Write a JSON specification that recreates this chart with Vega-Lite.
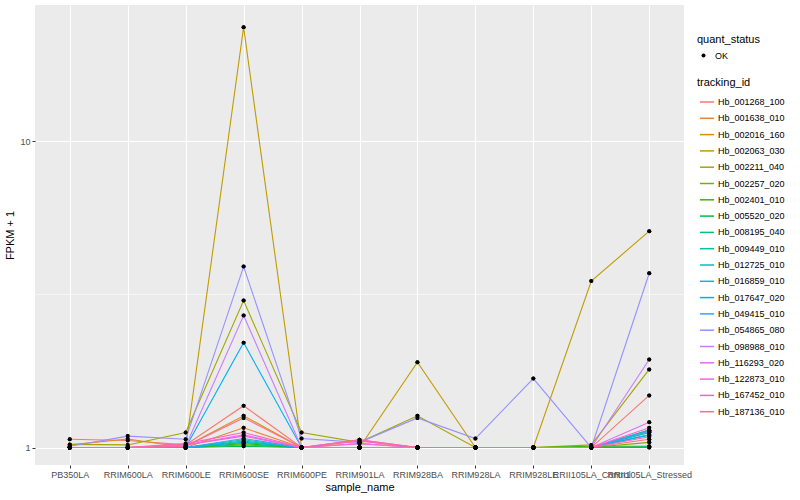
{
  "$schema": "https://vega.github.io/schema/vega-lite/v6.json",
  "width": 649,
  "height": 460,
  "autosize": {"type": "none"},
  "padding": {"left": 35, "top": 5, "right": 116, "bottom": 35},
  "background": "white",
  "data": {
    "values": [
      {"t":"Hb_001268_100","s":"PB350LA","v":1.064,"q":"OK"},{"t":"Hb_001268_100","s":"RRIM600LA","v":1.055,"q":"OK"},{"t":"Hb_001268_100","s":"RRIM600LE","v":1.02,"q":"OK"},{"t":"Hb_001268_100","s":"RRIM600SE","v":1.37,"q":"OK"},{"t":"Hb_001268_100","s":"RRIM600PE","v":1.0,"q":"OK"},{"t":"Hb_001268_100","s":"RRIM901LA","v":1.06,"q":"OK"},{"t":"Hb_001268_100","s":"RRIM928BA","v":1.0,"q":"OK"},{"t":"Hb_001268_100","s":"RRIM928LA","v":1.0,"q":"OK"},{"t":"Hb_001268_100","s":"RRIM928LE","v":1.0,"q":"OK"},{"t":"Hb_001268_100","s":"RRII105LA_Control","v":1.0,"q":"OK"},{"t":"Hb_001268_100","s":"RRII105LA_Stressed","v":1.48,"q":"OK"},
      {"t":"Hb_001638_010","s":"PB350LA","v":1.02,"q":"OK"},{"t":"Hb_001638_010","s":"RRIM600LA","v":1.066,"q":"OK"},{"t":"Hb_001638_010","s":"RRIM600LE","v":1.0,"q":"OK"},{"t":"Hb_001638_010","s":"RRIM600SE","v":1.16,"q":"OK"},{"t":"Hb_001638_010","s":"RRIM600PE","v":1.0,"q":"OK"},{"t":"Hb_001638_010","s":"RRIM901LA","v":1.03,"q":"OK"},{"t":"Hb_001638_010","s":"RRIM928BA","v":1.0,"q":"OK"},{"t":"Hb_001638_010","s":"RRIM928LA","v":1.0,"q":"OK"},{"t":"Hb_001638_010","s":"RRIM928LE","v":1.0,"q":"OK"},{"t":"Hb_001638_010","s":"RRII105LA_Control","v":1.0,"q":"OK"},{"t":"Hb_001638_010","s":"RRII105LA_Stressed","v":1.12,"q":"OK"},
      {"t":"Hb_002016_160","s":"PB350LA","v":1.0,"q":"OK"},{"t":"Hb_002016_160","s":"RRIM600LA","v":1.0,"q":"OK"},{"t":"Hb_002016_160","s":"RRIM600LE","v":1.01,"q":"OK"},{"t":"Hb_002016_160","s":"RRIM600SE","v":1.27,"q":"OK"},{"t":"Hb_002016_160","s":"RRIM600PE","v":1.0,"q":"OK"},{"t":"Hb_002016_160","s":"RRIM901LA","v":1.0,"q":"OK"},{"t":"Hb_002016_160","s":"RRIM928BA","v":1.0,"q":"OK"},{"t":"Hb_002016_160","s":"RRIM928LA","v":1.0,"q":"OK"},{"t":"Hb_002016_160","s":"RRIM928LE","v":1.0,"q":"OK"},{"t":"Hb_002016_160","s":"RRII105LA_Control","v":1.0,"q":"OK"},{"t":"Hb_002016_160","s":"RRII105LA_Stressed","v":1.14,"q":"OK"},
      {"t":"Hb_002063_030","s":"PB350LA","v":1.0,"q":"OK"},{"t":"Hb_002063_030","s":"RRIM600LA","v":1.0,"q":"OK"},{"t":"Hb_002063_030","s":"RRIM600LE","v":1.0,"q":"OK"},{"t":"Hb_002063_030","s":"RRIM600SE","v":23.6,"q":"OK"},{"t":"Hb_002063_030","s":"RRIM600PE","v":1.0,"q":"OK"},{"t":"Hb_002063_030","s":"RRIM901LA","v":1.0,"q":"OK"},{"t":"Hb_002063_030","s":"RRIM928BA","v":1.9,"q":"OK"},{"t":"Hb_002063_030","s":"RRIM928LA","v":1.0,"q":"OK"},{"t":"Hb_002063_030","s":"RRIM928LE","v":1.0,"q":"OK"},{"t":"Hb_002063_030","s":"RRII105LA_Control","v":3.5,"q":"OK"},{"t":"Hb_002063_030","s":"RRII105LA_Stressed","v":5.09,"q":"OK"},
      {"t":"Hb_002211_040","s":"PB350LA","v":1.024,"q":"OK"},{"t":"Hb_002211_040","s":"RRIM600LA","v":1.02,"q":"OK"},{"t":"Hb_002211_040","s":"RRIM600LE","v":1.12,"q":"OK"},{"t":"Hb_002211_040","s":"RRIM600SE","v":3.02,"q":"OK"},{"t":"Hb_002211_040","s":"RRIM600PE","v":1.12,"q":"OK"},{"t":"Hb_002211_040","s":"RRIM901LA","v":1.04,"q":"OK"},{"t":"Hb_002211_040","s":"RRIM928BA","v":1.27,"q":"OK"},{"t":"Hb_002211_040","s":"RRIM928LA","v":1.0,"q":"OK"},{"t":"Hb_002211_040","s":"RRIM928LE","v":1.0,"q":"OK"},{"t":"Hb_002211_040","s":"RRII105LA_Control","v":1.02,"q":"OK"},{"t":"Hb_002211_040","s":"RRII105LA_Stressed","v":1.8,"q":"OK"},
      {"t":"Hb_002257_020","s":"PB350LA","v":1.0,"q":"OK"},{"t":"Hb_002257_020","s":"RRIM600LA","v":1.0,"q":"OK"},{"t":"Hb_002257_020","s":"RRIM600LE","v":1.0,"q":"OK"},{"t":"Hb_002257_020","s":"RRIM600SE","v":1.02,"q":"OK"},{"t":"Hb_002257_020","s":"RRIM600PE","v":1.0,"q":"OK"},{"t":"Hb_002257_020","s":"RRIM901LA","v":1.0,"q":"OK"},{"t":"Hb_002257_020","s":"RRIM928BA","v":1.0,"q":"OK"},{"t":"Hb_002257_020","s":"RRIM928LA","v":1.0,"q":"OK"},{"t":"Hb_002257_020","s":"RRIM928LE","v":1.0,"q":"OK"},{"t":"Hb_002257_020","s":"RRII105LA_Control","v":1.0,"q":"OK"},{"t":"Hb_002257_020","s":"RRII105LA_Stressed","v":1.04,"q":"OK"},
      {"t":"Hb_002401_010","s":"PB350LA","v":1.0,"q":"OK"},{"t":"Hb_002401_010","s":"RRIM600LA","v":1.0,"q":"OK"},{"t":"Hb_002401_010","s":"RRIM600LE","v":1.0,"q":"OK"},{"t":"Hb_002401_010","s":"RRIM600SE","v":1.03,"q":"OK"},{"t":"Hb_002401_010","s":"RRIM600PE","v":1.0,"q":"OK"},{"t":"Hb_002401_010","s":"RRIM901LA","v":1.0,"q":"OK"},{"t":"Hb_002401_010","s":"RRIM928BA","v":1.0,"q":"OK"},{"t":"Hb_002401_010","s":"RRIM928LA","v":1.0,"q":"OK"},{"t":"Hb_002401_010","s":"RRIM928LE","v":1.0,"q":"OK"},{"t":"Hb_002401_010","s":"RRII105LA_Control","v":1.01,"q":"OK"},{"t":"Hb_002401_010","s":"RRII105LA_Stressed","v":1.01,"q":"OK"},
      {"t":"Hb_005520_020","s":"PB350LA","v":1.0,"q":"OK"},{"t":"Hb_005520_020","s":"RRIM600LA","v":1.0,"q":"OK"},{"t":"Hb_005520_020","s":"RRIM600LE","v":1.0,"q":"OK"},{"t":"Hb_005520_020","s":"RRIM600SE","v":1.01,"q":"OK"},{"t":"Hb_005520_020","s":"RRIM600PE","v":1.0,"q":"OK"},{"t":"Hb_005520_020","s":"RRIM901LA","v":1.0,"q":"OK"},{"t":"Hb_005520_020","s":"RRIM928BA","v":1.0,"q":"OK"},{"t":"Hb_005520_020","s":"RRIM928LA","v":1.0,"q":"OK"},{"t":"Hb_005520_020","s":"RRIM928LE","v":1.0,"q":"OK"},{"t":"Hb_005520_020","s":"RRII105LA_Control","v":1.0,"q":"OK"},{"t":"Hb_005520_020","s":"RRII105LA_Stressed","v":1.0,"q":"OK"},
      {"t":"Hb_008195_040","s":"PB350LA","v":1.0,"q":"OK"},{"t":"Hb_008195_040","s":"RRIM600LA","v":1.0,"q":"OK"},{"t":"Hb_008195_040","s":"RRIM600LE","v":1.0,"q":"OK"},{"t":"Hb_008195_040","s":"RRIM600SE","v":1.04,"q":"OK"},{"t":"Hb_008195_040","s":"RRIM600PE","v":1.0,"q":"OK"},{"t":"Hb_008195_040","s":"RRIM901LA","v":1.0,"q":"OK"},{"t":"Hb_008195_040","s":"RRIM928BA","v":1.0,"q":"OK"},{"t":"Hb_008195_040","s":"RRIM928LA","v":1.0,"q":"OK"},{"t":"Hb_008195_040","s":"RRIM928LE","v":1.0,"q":"OK"},{"t":"Hb_008195_040","s":"RRII105LA_Control","v":1.0,"q":"OK"},{"t":"Hb_008195_040","s":"RRII105LA_Stressed","v":1.005,"q":"OK"},
      {"t":"Hb_009449_010","s":"PB350LA","v":1.0,"q":"OK"},{"t":"Hb_009449_010","s":"RRIM600LA","v":1.0,"q":"OK"},{"t":"Hb_009449_010","s":"RRIM600LE","v":1.0,"q":"OK"},{"t":"Hb_009449_010","s":"RRIM600SE","v":1.05,"q":"OK"},{"t":"Hb_009449_010","s":"RRIM600PE","v":1.0,"q":"OK"},{"t":"Hb_009449_010","s":"RRIM901LA","v":1.0,"q":"OK"},{"t":"Hb_009449_010","s":"RRIM928BA","v":1.0,"q":"OK"},{"t":"Hb_009449_010","s":"RRIM928LA","v":1.0,"q":"OK"},{"t":"Hb_009449_010","s":"RRIM928LE","v":1.0,"q":"OK"},{"t":"Hb_009449_010","s":"RRII105LA_Control","v":1.0,"q":"OK"},{"t":"Hb_009449_010","s":"RRII105LA_Stressed","v":1.1,"q":"OK"},
      {"t":"Hb_012725_010","s":"PB350LA","v":1.0,"q":"OK"},{"t":"Hb_012725_010","s":"RRIM600LA","v":1.0,"q":"OK"},{"t":"Hb_012725_010","s":"RRIM600LE","v":1.0,"q":"OK"},{"t":"Hb_012725_010","s":"RRIM600SE","v":1.06,"q":"OK"},{"t":"Hb_012725_010","s":"RRIM600PE","v":1.0,"q":"OK"},{"t":"Hb_012725_010","s":"RRIM901LA","v":1.0,"q":"OK"},{"t":"Hb_012725_010","s":"RRIM928BA","v":1.0,"q":"OK"},{"t":"Hb_012725_010","s":"RRIM928LA","v":1.0,"q":"OK"},{"t":"Hb_012725_010","s":"RRIM928LE","v":1.0,"q":"OK"},{"t":"Hb_012725_010","s":"RRII105LA_Control","v":1.0,"q":"OK"},{"t":"Hb_012725_010","s":"RRII105LA_Stressed","v":1.12,"q":"OK"},
      {"t":"Hb_016859_010","s":"PB350LA","v":1.0,"q":"OK"},{"t":"Hb_016859_010","s":"RRIM600LA","v":1.0,"q":"OK"},{"t":"Hb_016859_010","s":"RRIM600LE","v":1.0,"q":"OK"},{"t":"Hb_016859_010","s":"RRIM600SE","v":1.04,"q":"OK"},{"t":"Hb_016859_010","s":"RRIM600PE","v":1.0,"q":"OK"},{"t":"Hb_016859_010","s":"RRIM901LA","v":1.0,"q":"OK"},{"t":"Hb_016859_010","s":"RRIM928BA","v":1.0,"q":"OK"},{"t":"Hb_016859_010","s":"RRIM928LA","v":1.0,"q":"OK"},{"t":"Hb_016859_010","s":"RRIM928LE","v":1.0,"q":"OK"},{"t":"Hb_016859_010","s":"RRII105LA_Control","v":1.0,"q":"OK"},{"t":"Hb_016859_010","s":"RRII105LA_Stressed","v":1.14,"q":"OK"},
      {"t":"Hb_017647_020","s":"PB350LA","v":1.0,"q":"OK"},{"t":"Hb_017647_020","s":"RRIM600LA","v":1.0,"q":"OK"},{"t":"Hb_017647_020","s":"RRIM600LE","v":1.0,"q":"OK"},{"t":"Hb_017647_020","s":"RRIM600SE","v":2.2,"q":"OK"},{"t":"Hb_017647_020","s":"RRIM600PE","v":1.0,"q":"OK"},{"t":"Hb_017647_020","s":"RRIM901LA","v":1.0,"q":"OK"},{"t":"Hb_017647_020","s":"RRIM928BA","v":1.0,"q":"OK"},{"t":"Hb_017647_020","s":"RRIM928LA","v":1.0,"q":"OK"},{"t":"Hb_017647_020","s":"RRIM928LE","v":1.0,"q":"OK"},{"t":"Hb_017647_020","s":"RRII105LA_Control","v":1.0,"q":"OK"},{"t":"Hb_017647_020","s":"RRII105LA_Stressed","v":1.1,"q":"OK"},
      {"t":"Hb_049415_010","s":"PB350LA","v":1.0,"q":"OK"},{"t":"Hb_049415_010","s":"RRIM600LA","v":1.0,"q":"OK"},{"t":"Hb_049415_010","s":"RRIM600LE","v":1.0,"q":"OK"},{"t":"Hb_049415_010","s":"RRIM600SE","v":1.07,"q":"OK"},{"t":"Hb_049415_010","s":"RRIM600PE","v":1.0,"q":"OK"},{"t":"Hb_049415_010","s":"RRIM901LA","v":1.0,"q":"OK"},{"t":"Hb_049415_010","s":"RRIM928BA","v":1.0,"q":"OK"},{"t":"Hb_049415_010","s":"RRIM928LA","v":1.0,"q":"OK"},{"t":"Hb_049415_010","s":"RRIM928LE","v":1.0,"q":"OK"},{"t":"Hb_049415_010","s":"RRII105LA_Control","v":1.0,"q":"OK"},{"t":"Hb_049415_010","s":"RRII105LA_Stressed","v":1.13,"q":"OK"},
      {"t":"Hb_054865_080","s":"PB350LA","v":1.01,"q":"OK"},{"t":"Hb_054865_080","s":"RRIM600LA","v":1.09,"q":"OK"},{"t":"Hb_054865_080","s":"RRIM600LE","v":1.064,"q":"OK"},{"t":"Hb_054865_080","s":"RRIM600SE","v":3.9,"q":"OK"},{"t":"Hb_054865_080","s":"RRIM600PE","v":1.07,"q":"OK"},{"t":"Hb_054865_080","s":"RRIM901LA","v":1.04,"q":"OK"},{"t":"Hb_054865_080","s":"RRIM928BA","v":1.25,"q":"OK"},{"t":"Hb_054865_080","s":"RRIM928LA","v":1.07,"q":"OK"},{"t":"Hb_054865_080","s":"RRIM928LE","v":1.68,"q":"OK"},{"t":"Hb_054865_080","s":"RRII105LA_Control","v":1.0,"q":"OK"},{"t":"Hb_054865_080","s":"RRII105LA_Stressed","v":3.71,"q":"OK"},
      {"t":"Hb_098988_010","s":"PB350LA","v":1.0,"q":"OK"},{"t":"Hb_098988_010","s":"RRIM600LA","v":1.0,"q":"OK"},{"t":"Hb_098988_010","s":"RRIM600LE","v":1.01,"q":"OK"},{"t":"Hb_098988_010","s":"RRIM600SE","v":2.7,"q":"OK"},{"t":"Hb_098988_010","s":"RRIM600PE","v":1.0,"q":"OK"},{"t":"Hb_098988_010","s":"RRIM901LA","v":1.0,"q":"OK"},{"t":"Hb_098988_010","s":"RRIM928BA","v":1.0,"q":"OK"},{"t":"Hb_098988_010","s":"RRIM928LA","v":1.0,"q":"OK"},{"t":"Hb_098988_010","s":"RRIM928LE","v":1.0,"q":"OK"},{"t":"Hb_098988_010","s":"RRII105LA_Control","v":1.0,"q":"OK"},{"t":"Hb_098988_010","s":"RRII105LA_Stressed","v":1.94,"q":"OK"},
      {"t":"Hb_116293_020","s":"PB350LA","v":1.0,"q":"OK"},{"t":"Hb_116293_020","s":"RRIM600LA","v":1.0,"q":"OK"},{"t":"Hb_116293_020","s":"RRIM600LE","v":1.02,"q":"OK"},{"t":"Hb_116293_020","s":"RRIM600SE","v":1.1,"q":"OK"},{"t":"Hb_116293_020","s":"RRIM600PE","v":1.0,"q":"OK"},{"t":"Hb_116293_020","s":"RRIM901LA","v":1.03,"q":"OK"},{"t":"Hb_116293_020","s":"RRIM928BA","v":1.0,"q":"OK"},{"t":"Hb_116293_020","s":"RRIM928LA","v":1.0,"q":"OK"},{"t":"Hb_116293_020","s":"RRIM928LE","v":1.0,"q":"OK"},{"t":"Hb_116293_020","s":"RRII105LA_Control","v":1.0,"q":"OK"},{"t":"Hb_116293_020","s":"RRII105LA_Stressed","v":1.21,"q":"OK"},
      {"t":"Hb_122873_010","s":"PB350LA","v":1.0,"q":"OK"},{"t":"Hb_122873_010","s":"RRIM600LA","v":1.0,"q":"OK"},{"t":"Hb_122873_010","s":"RRIM600LE","v":1.02,"q":"OK"},{"t":"Hb_122873_010","s":"RRIM600SE","v":1.09,"q":"OK"},{"t":"Hb_122873_010","s":"RRIM600PE","v":1.0,"q":"OK"},{"t":"Hb_122873_010","s":"RRIM901LA","v":1.05,"q":"OK"},{"t":"Hb_122873_010","s":"RRIM928BA","v":1.0,"q":"OK"},{"t":"Hb_122873_010","s":"RRIM928LA","v":1.0,"q":"OK"},{"t":"Hb_122873_010","s":"RRIM928LE","v":1.0,"q":"OK"},{"t":"Hb_122873_010","s":"RRII105LA_Control","v":1.0,"q":"OK"},{"t":"Hb_122873_010","s":"RRII105LA_Stressed","v":1.16,"q":"OK"},
      {"t":"Hb_167452_010","s":"PB350LA","v":1.0,"q":"OK"},{"t":"Hb_167452_010","s":"RRIM600LA","v":1.0,"q":"OK"},{"t":"Hb_167452_010","s":"RRIM600LE","v":1.03,"q":"OK"},{"t":"Hb_167452_010","s":"RRIM600SE","v":1.12,"q":"OK"},{"t":"Hb_167452_010","s":"RRIM600PE","v":1.0,"q":"OK"},{"t":"Hb_167452_010","s":"RRIM901LA","v":1.06,"q":"OK"},{"t":"Hb_167452_010","s":"RRIM928BA","v":1.0,"q":"OK"},{"t":"Hb_167452_010","s":"RRIM928LA","v":1.0,"q":"OK"},{"t":"Hb_167452_010","s":"RRIM928LE","v":1.0,"q":"OK"},{"t":"Hb_167452_010","s":"RRII105LA_Control","v":1.0,"q":"OK"},{"t":"Hb_167452_010","s":"RRII105LA_Stressed","v":1.085,"q":"OK"},
      {"t":"Hb_187136_010","s":"PB350LA","v":1.0,"q":"OK"},{"t":"Hb_187136_010","s":"RRIM600LA","v":1.0,"q":"OK"},{"t":"Hb_187136_010","s":"RRIM600LE","v":1.01,"q":"OK"},{"t":"Hb_187136_010","s":"RRIM600SE","v":1.25,"q":"OK"},{"t":"Hb_187136_010","s":"RRIM600PE","v":1.0,"q":"OK"},{"t":"Hb_187136_010","s":"RRIM901LA","v":1.05,"q":"OK"},{"t":"Hb_187136_010","s":"RRIM928BA","v":1.0,"q":"OK"},{"t":"Hb_187136_010","s":"RRIM928LA","v":1.0,"q":"OK"},{"t":"Hb_187136_010","s":"RRIM928LE","v":1.0,"q":"OK"},{"t":"Hb_187136_010","s":"RRII105LA_Control","v":1.0,"q":"OK"},{"t":"Hb_187136_010","s":"RRII105LA_Stressed","v":1.064,"q":"OK"}
    ]
  },
  "encoding": {
    "x": {
      "field": "s", "type": "nominal", "title": "sample_name",
      "sort": ["PB350LA","RRIM600LA","RRIM600LE","RRIM600SE","RRIM600PE","RRIM901LA","RRIM928BA","RRIM928LA","RRIM928LE","RRII105LA_Control","RRII105LA_Stressed"],
      "scale": {"type": "point", "padding": 0.6},
      "axis": {"labelAngle": 0, "labelOverlap": false, "grid": true, "gridWidth": 1.1, "labelPadding": 2, "titlePadding": 2}
    },
    "y": {
      "field": "v", "type": "quantitative", "title": "FPKM + 1",
      "scale": {"type": "log", "domain": [0.877, 27.9], "nice": false, "zero": false},
      "axis": {
        "values": [1, 3.1623, 10],
        "labelExpr": "datum.value == 1 ? '1' : (datum.value == 10 ? '10' : '')",
        "gridWidth": {"condition": {"test": "datum.value == 1 || datum.value == 10", "value": 1.1}, "value": 0.55},
        "tickColor": {"condition": {"test": "datum.value == 1 || datum.value == 10", "value": "#333333"}, "value": "transparent"},
        "labelPadding": 2, "titlePadding": 4
      }
    }
  },
  "layer": [
    {
      "mark": {"type": "point", "filled": true, "color": "black", "opacity": 1, "size": 16},
      "encoding": {
        "shape": {
          "field": "q", "type": "nominal", "title": "quant_status",
          "scale": {"range": ["circle"]},
          "legend": {"orient": "none", "legendX": 662, "legendY": 29, "symbolSize": 16, "labelOffset": 7, "symbolFillColor": "black", "symbolOffset": 2}
        }
      }
    },
    {
      "mark": {"type": "line", "strokeWidth": 1.1},
      "encoding": {
        "color": {
          "field": "t", "type": "nominal", "title": "tracking_id",
          "scale": {"range": ["#F8766D","#EA8331","#D89000","#C09B00","#A3A500","#7CAE00","#39B600","#00BB4E","#00BF7D","#00C1A3","#00BFC4","#00BAE0","#00B0F6","#35A2FF","#9590FF","#C77CFF","#E76BF3","#FA62DB","#FF62BC","#FF6C91"]},
          "legend": {"orient": "none", "legendX": 662, "legendY": 72, "symbolType": "stroke", "symbolSize": 200, "symbolStrokeWidth": 1.5, "rowPadding": 3.3, "labelOffset": 3, "symbolOffset": 2}
        },
        "detail": {"field": "t"}
      }
    },
    {
      "mark": {"type": "point", "filled": true, "color": "black", "opacity": 1, "size": 16, "shape": "circle"},
      "encoding": {}
    }
  ],
  "config": {
    "font": "Liberation Sans",
    "view": {"fill": "#EBEBEB", "stroke": null},
    "axis": {
      "domain": false, "gridColor": "#FFFFFF", "tickColor": "#333333", "tickSize": 3, "tickWidth": 1,
      "labelColor": "#4D4D4D", "labelFontSize": 9, "labelFont": "Liberation Sans",
      "titleFontSize": 11, "titleFontWeight": "normal", "titleColor": "#000000", "titleFont": "Liberation Sans"
    },
    "legend": {
      "titleFontSize": 11, "titleFontWeight": "normal", "titleColor": "#000000",
      "labelFontSize": 9, "labelColor": "#000000", "titlePadding": 6, "padding": 0
    }
  }
}
